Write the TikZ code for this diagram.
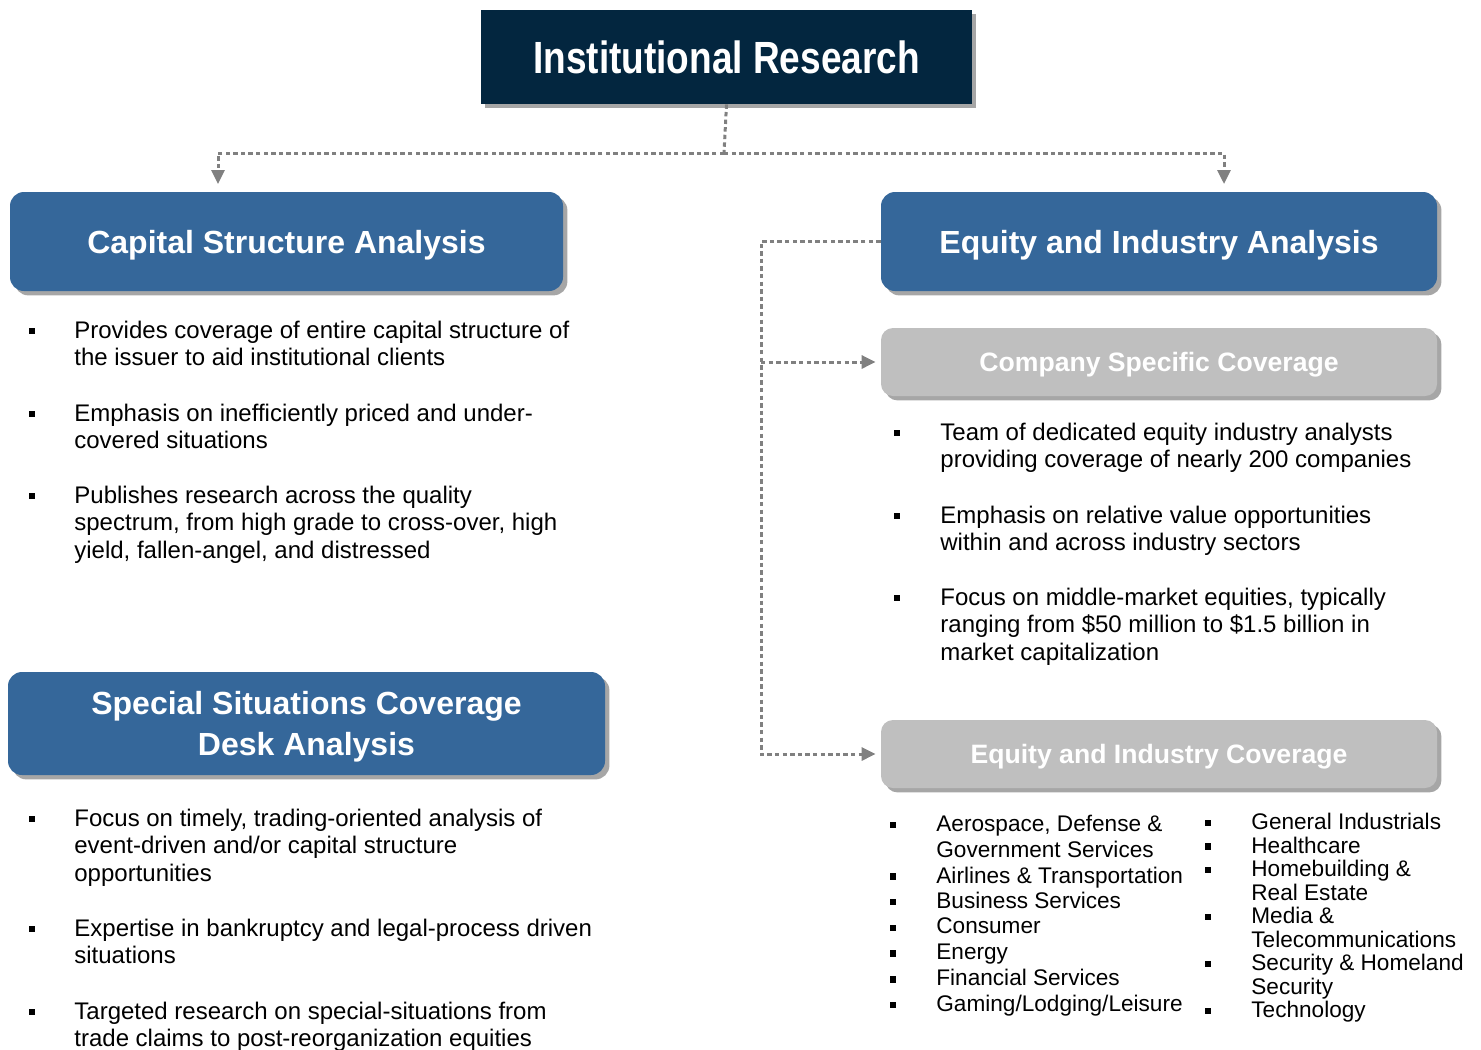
\documentclass[tikz,border=0pt]{standalone}
\usepackage{fontspec}
\setmainfont{Liberation Sans}
\usepackage{graphicx}
\usepackage{tikz}
\usetikzlibrary{arrows.meta, shadows, positioning, calc}
\definecolor{navy}{HTML}{03263F}
\definecolor{steel}{HTML}{35679A}
\definecolor{silver}{HTML}{BFBFBF}
\definecolor{linkgray}{HTML}{808080}
\tikzset{
  boxshadow/.style={drop shadow={shadow xshift=2.2pt, shadow yshift=-2.2pt, opacity=0.35, fill=black}},
  topbox/.style={fill=navy, text=white, inner sep=0, text depth=0pt, boxshadow,
    font=\bfseries\fontsize{18.5}{22}\selectfont},
  headbox/.style={rounded corners=7pt, fill=steel, text=white, inner sep=0, text depth=0pt, align=center, boxshadow,
    font=\bfseries\fontsize{16}{20.5}\selectfont},
  subbox/.style={rounded corners=6pt, fill=silver, text=white, inner sep=0, text depth=0pt, boxshadow,
    font=\bfseries\fontsize{13.3}{16}\selectfont},
  link/.style={draw=linkgray, line width=1.5pt, dash pattern=on 2.2pt off 1.6pt},
  tip/.style={-{Triangle[length=7pt,width=6.5pt]}},
  itemtext/.style={anchor=north west, inner sep=0, align=left, font=\fontsize{12}{13.8}\selectfont},
  smalltext/.style={anchor=north west, inner sep=0, align=left, font=\fontsize{11.3}{12.85}\selectfont},
  tighttext/.style={anchor=north west, inner sep=0, align=left, font=\fontsize{11.3}{11.75}\selectfont},
  bulletmark/.style={fill=black, inner sep=0, minimum size=3.3pt}
}
\begin{document}
\begin{tikzpicture}[x=0.5pt, y=-0.5pt]
  \useasboundingbox (0,0) rectangle (1481,1049);

  \node[topbox, minimum width=245.5pt, minimum height=47pt] (ir) at (726.5,57) {\scalebox{1}[1.22]{Institutional Research}};

  \node[headbox, minimum width=276.5pt, minimum height=49.5pt] (csa) at (286.5,241.5) {Capital Structure Analysis};
  \node[headbox, minimum width=278pt, minimum height=49.5pt] (eia) at (1159,241.5) {Equity and Industry Analysis};
  \node[headbox, minimum width=298.5pt, minimum height=51.5pt] (ssc) at (306.5,723.5) {Special Situations Coverage\\Desk Analysis};
  \node[subbox, minimum width=278pt, minimum height=34pt] (csc) at (1159,362) {Company Specific Coverage};
  \node[subbox, minimum width=278pt, minimum height=34pt] (eic) at (1159,754) {Equity and Industry Coverage};

  \coordinate (bus) at (724,153);
  \coordinate (lefttip) at (218,184);
  \coordinate (righttip) at (1224,184);
  \coordinate (spine) at (761,241.5);
  \draw[link] (ir.south) -- (bus);
  \draw[link, tip] (bus) -| (lefttip);
  \draw[link, tip] (bus) -| (righttip);
  \draw[link, tip, shorten >=2.5pt] (eia.west) -- (spine) |- (eic.west);
  \draw[link, tip, shorten >=2.5pt] (spine |- csc.west) -- (csc.west);

  \foreach \y/\t [count=\i] in {
      320.5/{Provides coverage of entire capital structure of\\the issuer to aid institutional clients},
      403.5/{Emphasis on inefficiently priced and under-\\covered situations},
      485.5/{Publishes research across the quality\\spectrum, from high grade to cross-over, high\\yield, fallen-angel, and distressed}}
    \node[itemtext] (cs-\i) at (74,\y) {\t}
      node[bulletmark] (cs-\i-b) at ($(cs-\i.north west)+(-42,10.5)$) {};

  \foreach \y/\t [count=\i] in {
      808.5/{Focus on timely, trading-oriented analysis of\\event-driven and/or capital structure\\opportunities},
      918.5/{Expertise in bankruptcy and legal-process driven\\situations},
      1001.5/{Targeted research on special-situations from\\trade claims to post-reorganization equities}}
    \node[itemtext] (ss-\i) at (74,\y) {\t}
      node[bulletmark] (ss-\i-b) at ($(ss-\i.north west)+(-42,10.5)$) {};

  \foreach \y/\t [count=\i] in {
      422.5/{Team of dedicated equity industry analysts\\providing coverage of nearly 200 companies},
      505.5/{Emphasis on relative value opportunities\\within and across industry sectors},
      587.5/{Focus on middle-market equities, typically\\ranging from \$50 million to \$1.5 billion in\\market capitalization}}
    \node[itemtext] (co-\i) at (940,\y) {\t}
      node[bulletmark] (co-\i-b) at ($(co-\i.north west)+(-43,10.5)$) {};

  \foreach \y/\t [count=\i] in {
      815/{Aerospace, Defense \&\\Government Services},
      866.4/{Airlines \& Transportation},
      892.1/{Business Services},
      917.8/{Consumer},
      943.5/{Energy},
      969.2/{Financial Services},
      994.9/{Gaming/Lodging/Leisure}}
    \node[smalltext] (sa-\i) at (936,\y) {\t}
      node[bulletmark] (sa-\i-b) at ($(sa-\i.north west)+(-43,10)$) {};

  \foreach \y/\t [count=\i] in {
      813/{General Industrials},
      836.5/{Healthcare},
      860/{Homebuilding \&\\Real Estate},
      907/{Media \&\\Telecommunications},
      954/{Security \& Homeland\\Security},
      1001/{Technology}}
    \node[tighttext] (sb-\i) at (1251,\y) {\t}
      node[bulletmark] (sb-\i-b) at ($(sb-\i.north west)+(-43,10)$) {};
\end{tikzpicture}
\end{document}
